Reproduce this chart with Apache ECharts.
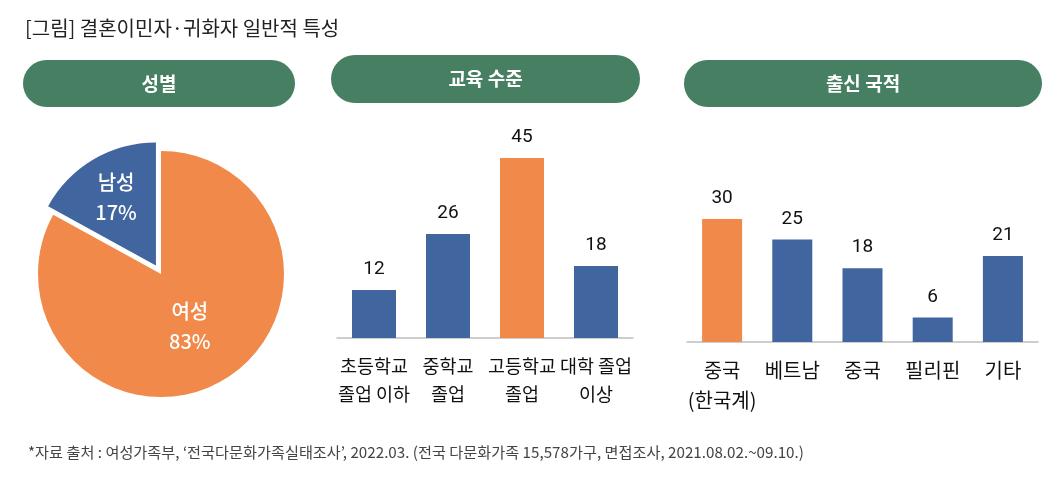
<!DOCTYPE html>
<html>
<head>
<meta charset="utf-8">
<script src="https://cdn.jsdelivr.net/npm/echarts@6/dist/echarts.min.js"></script>
<style>
html,body{margin:0;padding:0;background:#fff;}
#chart{width:1062px;height:484px;}
</style>
</head>
<body>
<div id="chart"></div>
<script>
// ---- data ----
const titleText = '[그림] 결혼이민자·귀화자 일반적 특성';
const panelTitles = ['성별', '교육 수준', '출신 국적'];
const pieNames = ['여성', '남성'];
const pieValues = [83, 17];
const eduCategories = ['초등학교\n졸업 이하', '중학교\n졸업', '고등학교\n졸업', '대학 졸업\n이상'];
const eduValues = [12, 26, 45, 18];
const nationCategories = ['중국\n(한국계)', '베트남', '중국', '필리핀', '기타'];
const nationValues = [30, 25, 18, 6, 21];
const sourceText = '*자료 출처 : 여성가족부, ‘전국다문화가족실태조사’, 2022.03. (전국 다문화가족 15,578가구, 면접조사, 2021.08.02.~09.10.)';

// ---- style ----
const ORANGE = '#F0894A';
const BLUE = '#41659E';
const GREEN = '#467F61';
const KFONT = '"Noto Sans CJK KR", sans-serif';
const NFONT = 'Roboto, "Noto Sans CJK KR", sans-serif';
const eduHighlight = 2;
const nationHighlight = 0;

const chart = echarts.init(document.getElementById('chart'), null, {renderer: 'canvas'});

function pill(x, y, w, h, text) {
  return {
    type: 'group',
    children: [
      {type: 'rect', shape: {x: x, y: y, width: w, height: h, r: h / 2}, style: {fill: GREEN}},
      {type: 'text', x: x + w / 2, y: y + h / 2,
       style: {text: text, fill: '#fff', font: 'bold 19px ' + KFONT, textAlign: 'center', textVerticalAlign: 'middle'}}
    ]
  };
}

const barLabel = {
  show: true, position: 'top', distance: 11,
  color: '#111', fontSize: 19, fontFamily: NFONT
};

const option = {
  animation: false,
  graphic: [
    {type: 'text', left: 25, top: 18,
     style: {text: titleText, fill: '#222', font: '20px ' + KFONT}},
    pill(23, 60, 272, 47, panelTitles[0]),
    pill(331, 55, 309, 48, panelTitles[1]),
    pill(684, 60, 358, 47, panelTitles[2]),
    {type: 'text', left: 28, top: 445,
     style: {text: sourceText, fill: '#444', font: '15.2px ' + KFONT}}
  ],
  grid: [
    {left: 337, top: 138, width: 296, height: 200},
    {left: 687, top: 178, width: 351, height: 164}
  ],
  xAxis: [
    {gridIndex: 0, type: 'category', data: eduCategories,
     axisLine: {lineStyle: {color: '#BFBFBF', width: 1.5}}, axisTick: {show: false},
     axisLabel: {color: '#111', fontSize: 18.5, fontFamily: KFONT, lineHeight: 28, margin: 14, interval: 0}},
    {gridIndex: 1, type: 'category', data: nationCategories,
     axisLine: {lineStyle: {color: '#BFBFBF', width: 1.5}}, axisTick: {show: false},
     axisLabel: {color: '#111', fontSize: 20, fontFamily: KFONT, lineHeight: 30, margin: 13, interval: 0}}
  ],
  yAxis: [
    {gridIndex: 0, type: 'value', min: 0, max: 50, show: false, splitLine: {show: false}},
    {gridIndex: 1, type: 'value', min: 0, max: 40, show: false, splitLine: {show: false}}
  ],
  series: [
    {
      type: 'pie', center: [161, 274], radius: 123, startAngle: 90,
      selectedMode: 'single', selectedOffset: 10,
      emphasis: {disabled: true},
      data: pieNames.map((n, i) => ({name: n, value: pieValues[i], selected: i === 1})),
      itemStyle: {color: p => (p.dataIndex === 0 ? ORANGE : BLUE)},
      label: {show: true, position: 'inside', formatter: '{b}\n{c}%', color: '#fff',
              fontSize: 20, fontWeight: 500, lineHeight: 30, fontFamily: KFONT},
      labelLine: {show: false},
      labelLayout: p => (p.dataIndex === 1 ? {dx: -7, dy: -12} : {dx: -4, dy: -3})
    },
    {
      type: 'bar', xAxisIndex: 0, yAxisIndex: 0, data: eduValues, barWidth: 44,
      itemStyle: {color: p => (p.dataIndex === eduHighlight ? ORANGE : BLUE)},
      label: barLabel, emphasis: {disabled: true}
    },
    {
      type: 'bar', xAxisIndex: 1, yAxisIndex: 1, data: nationValues, barWidth: 40,
      itemStyle: {color: p => (p.dataIndex === nationHighlight ? ORANGE : BLUE)},
      label: barLabel, emphasis: {disabled: true}
    }
  ]
};
chart.setOption(option);
</script>
</body>
</html>
